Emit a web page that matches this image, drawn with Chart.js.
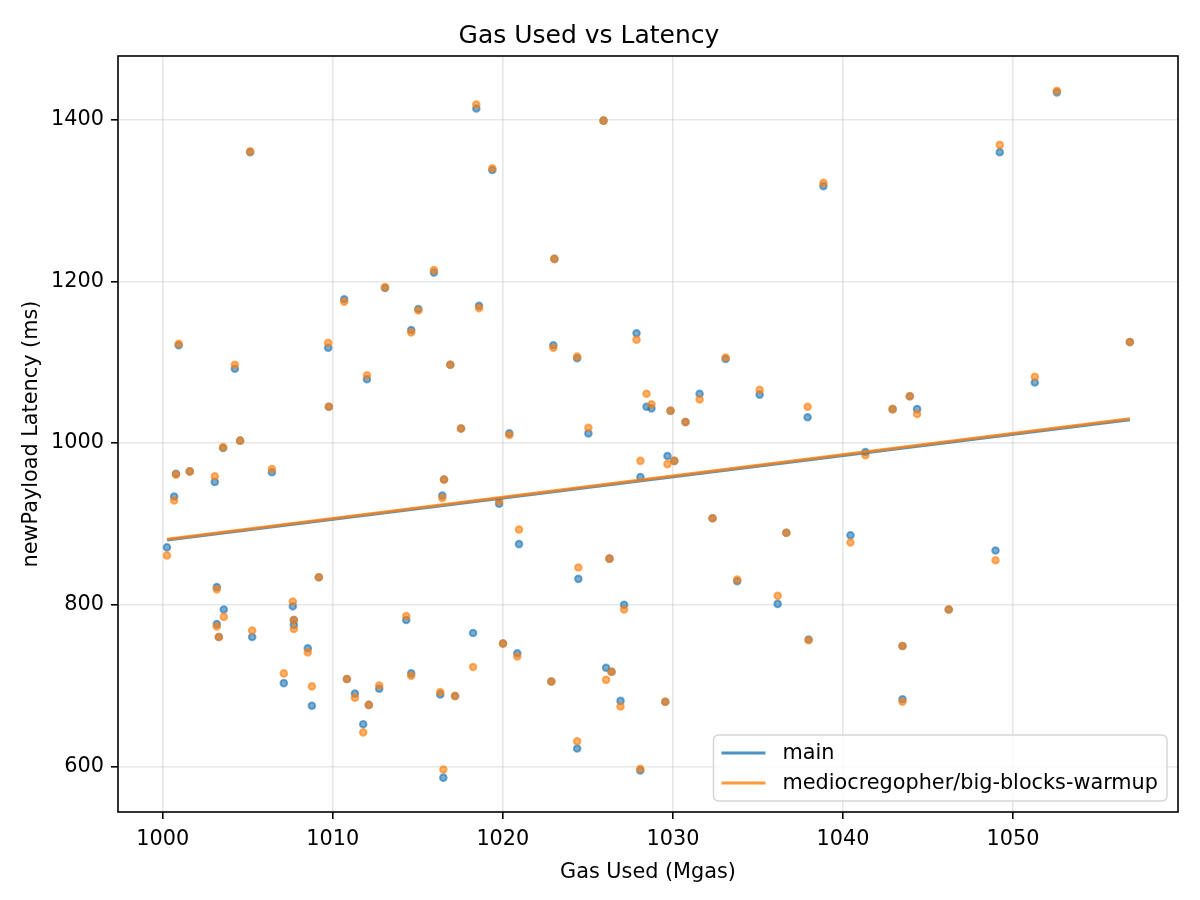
<!DOCTYPE html>
<html>
<head>
<meta charset="utf-8">
<title>Gas Used vs Latency</title>
<script src="https://cdn.jsdelivr.net/npm/chart.js@4.4.1/dist/chart.umd.min.js"></script>
<style>
  html, body { margin: 0; padding: 0; background: #fff; }
  canvas { display: block; }
</style>
</head>
<body>
<canvas id="latencyChart" width="1200" height="900"></canvas>
<script>
// gas used per block (Mgas), shared by both runs
const gasUsed = [
  1000.25, 1000.67, 1000.78, 1000.94, 1001.59, 1003.06, 1003.18, 1003.59, 1003.18, 1003.30,
  1003.55, 1004.24, 1004.55, 1005.14, 1005.26, 1006.42, 1007.12, 1007.65, 1007.71, 1007.71,
  1008.53, 1008.77, 1009.18, 1009.73, 1009.77, 1010.67, 1010.83, 1011.30, 1011.79, 1012.01,
  1012.12, 1012.73, 1013.07, 1014.32, 1014.61, 1014.61, 1015.03, 1015.95, 1016.32, 1016.44,
  1016.50, 1016.54, 1016.91, 1017.19, 1017.54, 1018.25, 1018.44, 1018.60, 1019.38, 1019.78,
  1020.01, 1020.38, 1020.85, 1020.95, 1022.85, 1022.97, 1023.03, 1024.37, 1024.37, 1024.44,
  1025.03, 1025.92, 1026.07, 1026.27, 1026.39, 1026.92, 1027.13, 1027.86, 1028.08, 1028.09,
  1028.45, 1028.74, 1029.55, 1029.68, 1029.86, 1030.08, 1030.74, 1031.57, 1032.33, 1033.10,
  1033.78, 1035.10, 1036.16, 1036.67, 1037.92, 1037.98, 1038.85, 1040.44, 1041.32, 1042.92,
  1043.50, 1043.50, 1043.93, 1044.36, 1046.22, 1048.97, 1049.22, 1051.28, 1052.58, 1056.87
];

// newPayload latency (ms)
const mainLatency = [
  871, 934, 962, 1121, 965, 952, 822, 794, 776, 760,
  994, 1092, 1003, 1360, 760, 964, 703, 798, 781, 775,
  746, 675, 834, 1118, 1045, 1178, 708, 690, 652, 1079,
  676, 696, 1192, 781, 1140, 715, 1166, 1211, 689, 935,
  586, 955, 1097, 687, 1018, 765, 1414, 1170, 1338, 925,
  752, 1012, 740, 875, 705, 1121, 1228, 1105, 622, 832,
  1012, 1399, 722, 857, 717, 681, 800, 1136, 595, 958,
  1045, 1043, 680, 984, 1040, 978, 1026, 1061, 907, 1104,
  829, 1060, 801, 889, 1032, 757, 1318, 886, 989, 1042,
  749, 683, 1058, 1042, 794, 867, 1360, 1075, 1434, 1125
];

const branchLatency = [
  861, 929, 961, 1123, 965, 959, 819, 785, 773, 760,
  995, 1097, 1003, 1361, 768, 968, 715, 804, 781, 770,
  741, 699, 834, 1124, 1045, 1175, 708, 685, 642, 1084,
  676, 700, 1193, 786, 1137, 712, 1164, 1214, 692, 932,
  596, 955, 1097, 687, 1018, 723, 1419, 1167, 1340, 928,
  752, 1010, 736, 893, 705, 1118, 1228, 1107, 631, 846,
  1019, 1399, 707, 857, 717, 674, 794, 1128, 597, 978,
  1061, 1048, 680, 974, 1040, 978, 1026, 1054, 907, 1106,
  831, 1066, 811, 889, 1045, 756, 1322, 877, 985, 1042,
  749, 680, 1058, 1036, 794, 855, 1369, 1082, 1436, 1125
];

// trend lines at both ends
const trendGas = [1000.25, 1056.87];
const mainTrend = [880, 1029];
const branchTrend = [881, 1030];

const xTicks = [1000, 1010, 1020, 1030, 1040, 1050];
const yTicks = [600, 800, 1000, 1200, 1400];
const seriesNames = ['main', 'mediocregopher/big-blocks-warmup'];

const BLUE = 'rgba(31,119,180,';
const ORANGE = 'rgba(255,127,14,';
const FONT_PX = 20.8;

const toPoints = (xs, ys) => xs.map((x, i) => ({ x: x, y: ys[i] }));

// axes box + legend drawn inside the plot, like matplotlib does
const boxAndLegend = {
  id: 'boxAndLegend',
  afterDraw(chart) {
    const { ctx, chartArea } = chart;
    ctx.save();
    ctx.strokeStyle = '#000';
    ctx.lineWidth = 1.6;
    ctx.strokeRect(chartArea.left, chartArea.top, chartArea.right - chartArea.left, chartArea.bottom - chartArea.top);

    ctx.font = FONT_PX + 'px "DejaVu Sans"';
    const textW = Math.max(...seriesNames.map(n => ctx.measureText(n).width));
    const w = 69 + textW + 9;
    const h = 66;
    const x = chartArea.right - 11 - w;
    const y = chartArea.bottom - 11 - h;

    ctx.beginPath();
    if (ctx.roundRect) ctx.roundRect(x, y, w, h, 5); else ctx.rect(x, y, w, h);
    ctx.fillStyle = 'rgba(255,255,255,0.8)';
    ctx.fill();
    ctx.strokeStyle = '#d6d6d6';
    ctx.lineWidth = 1.5;
    ctx.stroke();

    const colors = [BLUE + '0.8)', ORANGE + '0.8)'];
    const rows = [y + 18, y + 48];
    seriesNames.forEach((name, i) => {
      ctx.beginPath();
      ctx.moveTo(x + 8, rows[i]);
      ctx.lineTo(x + 52, rows[i]);
      ctx.strokeStyle = colors[i];
      ctx.lineWidth = 3;
      ctx.stroke();
      ctx.fillStyle = '#000';
      ctx.textBaseline = 'middle';
      ctx.textAlign = 'left';
      ctx.fillText(name, x + 69, rows[i] + 1);
    });
    ctx.restore();
  }
};

Chart.defaults.font.family = '"DejaVu Sans", sans-serif';
Chart.defaults.color = '#000';

const ctx = document.getElementById('latencyChart');
new Chart(ctx, {
  type: 'scatter',
  data: {
    datasets: [
      {
        label: seriesNames[1] + ' trend',
        data: toPoints(trendGas, branchTrend),
        showLine: true,
        borderColor: ORANGE + '0.8)',
        borderWidth: 3,
        pointRadius: 0,
        order: 0
      },
      {
        label: seriesNames[0] + ' trend',
        data: toPoints(trendGas, mainTrend),
        showLine: true,
        borderColor: BLUE + '0.8)',
        borderWidth: 3,
        pointRadius: 0,
        order: 1
      },
      {
        label: seriesNames[1],
        data: toPoints(gasUsed, branchLatency),
        backgroundColor: ORANGE + '0.6)',
        borderColor: ORANGE + '0.6)',
        borderWidth: 2,
        pointRadius: 3.3,
        order: 2
      },
      {
        label: seriesNames[0],
        data: toPoints(gasUsed, mainLatency),
        backgroundColor: BLUE + '0.6)',
        borderColor: BLUE + '0.6)',
        borderWidth: 2,
        pointRadius: 3.3,
        order: 3
      }
    ]
  },
  options: {
    responsive: false,
    animation: false,
    devicePixelRatio: 1,
    events: [],
    layout: { padding: { left: 0, right: 22, top: 0, bottom: 0 } },
    plugins: {
      legend: { display: false },
      tooltip: { enabled: false },
      title: {
        display: true,
        text: 'Gas Used vs Latency',
        font: { size: 25, weight: 'normal' },
        padding: { top: 21, bottom: 5 }
      }
    },
    scales: {
      x: {
        type: 'linear',
        min: 997.37,
        max: 1059.7,
        afterBuildTicks: scale => { scale.ticks = xTicks.map(v => ({ value: v })); },
        afterFit: scale => { scale.height = 88; },
        ticks: { font: { size: FONT_PX }, padding: 8, callback: v => String(v) },
        grid: { color: 'rgba(176,176,176,0.3)', lineWidth: 1.6, tickColor: '#000', tickWidth: 1.6, tickLength: 7 },
        border: { display: false },
        title: { display: true, text: 'Gas Used (Mgas)', font: { size: FONT_PX }, padding: { top: 4, bottom: 15 } }
      },
      y: {
        type: 'linear',
        min: 543.5,
        max: 1479,
        afterBuildTicks: scale => { scale.ticks = yTicks.map(v => ({ value: v })); },
        afterFit: scale => { scale.width = 118; },
        ticks: { font: { size: FONT_PX }, padding: 7, callback: v => String(v) },
        grid: { color: 'rgba(176,176,176,0.3)', lineWidth: 1.6, tickColor: '#000', tickWidth: 1.6, tickLength: 7 },
        border: { display: false },
        title: { display: true, text: 'newPayload Latency (ms)', font: { size: FONT_PX }, padding: { top: 19.6, bottom: 4 } }
      }
    }
  },
  plugins: [boxAndLegend]
});
</script>
</body>
</html>
